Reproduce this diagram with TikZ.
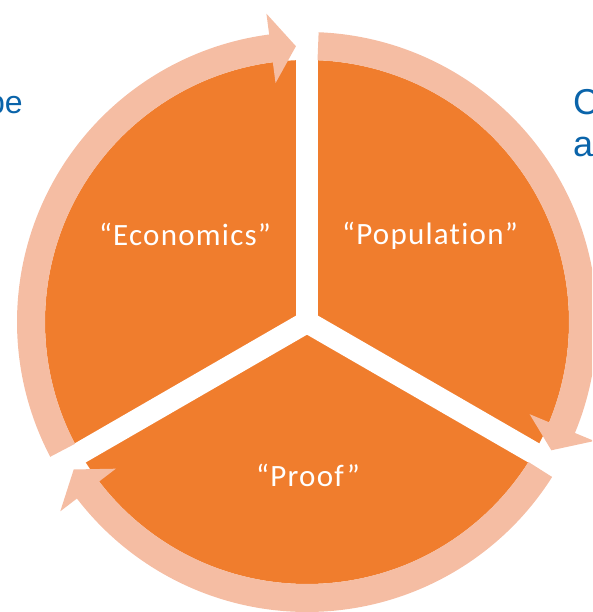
\documentclass[tikz,border=0pt]{standalone}
\usepackage{fontspec}
\newfontfamily\labelfont[LetterSpace=4,Ligatures=NoCommon]{Carlito}
\newfontfamily\slidefont{Liberation Sans}
\definecolor{cycleorange}{HTML}{F07D2D}
\definecolor{cyclering}{HTML}{F5BDA3}
\definecolor{slideblue}{HTML}{0A64AA}

\begin{document}
\begin{tikzpicture}[x=1pt,y=1pt,
    sector/.style={fill=cycleorange},
    gapbar/.style={draw=white,line width=22pt},
    ringarrow/.style={fill=cyclering},
    cyclelabel/.style={text=white,inner sep=0pt,font=\labelfont\fontsize{31}{36}\selectfont},
    slidetext/.style={text=slideblue,inner sep=0pt}]
  \useasboundingbox (0,0) rectangle (592,612);
  \clip (0,0) rectangle (592,612);
  \coordinate (c) at (307,290);

  % orange disk, cut in three by white gaps
  \fill[sector] (c) circle[radius=262];
  \draw[gapbar] (c) -- ([shift={(c)}]90:266);
  \draw[gapbar] (c) -- ([shift={(c)}]210:266);
  \draw[gapbar] (c) -- ([shift={(c)}]330:266);

  % ring of arrows, clockwise
  \fill[ringarrow] ([shift={(c)}]207.7:262) -- ([shift={(c)}]207.7:290)
    arc[start angle=207.7,end angle=97.5,radius=290]
    -- ([shift={(c)}]97.5:311) -- ([shift={(c)}]92.3:276) -- ([shift={(c)}]97.5:241)
    -- ([shift={(c)}]97.5:262) arc[start angle=97.5,end angle=207.7,radius=262] -- cycle;
  \fill[ringarrow] ([shift={(c)}]87.7:262) -- ([shift={(c)}]87.7:290)
    arc[start angle=87.7,end angle=-22.5,radius=290]
    -- ([shift={(c)}]-22.5:311) -- ([shift={(c)}]-27.7:276) -- ([shift={(c)}]-22.5:241)
    -- ([shift={(c)}]-22.5:262) arc[start angle=-22.5,end angle=87.7,radius=262] -- cycle;
  \fill[ringarrow] ([shift={(c)}]-32.3:262) -- ([shift={(c)}]-32.3:290)
    arc[start angle=-32.3,end angle=-142.5,radius=290]
    -- ([shift={(c)}]-142.5:311) -- ([shift={(c)}]-147.7:276) -- ([shift={(c)}]-142.5:241)
    -- ([shift={(c)}]-142.5:262) arc[start angle=-142.5,end angle=-32.3,radius=262] -- cycle;

  % sector labels
  \node[cyclelabel,anchor=base] (econ) at (185,366) {“Economics”};
  \node[cyclelabel,anchor=base] (pop) at (430,367) {“Population”};
  \node[cyclelabel,anchor=base] (proof) at (308,125) {“Proof”};

  % slide text cut by the frame
  \node[slidetext,anchor=base east,font=\slidefont\fontsize{32}{38}\selectfont] (lefttxt) at (23,498) {pe};
  \node[slidetext,anchor=base west,font=\slidefont\fontsize{36}{42}\selectfont] (righttop) at (573,497) {C};
  \node[slidetext,anchor=base west,font=\slidefont\fontsize{36}{42}\selectfont] (rightbot) at (573,455) {a};
\end{tikzpicture}
\end{document}
